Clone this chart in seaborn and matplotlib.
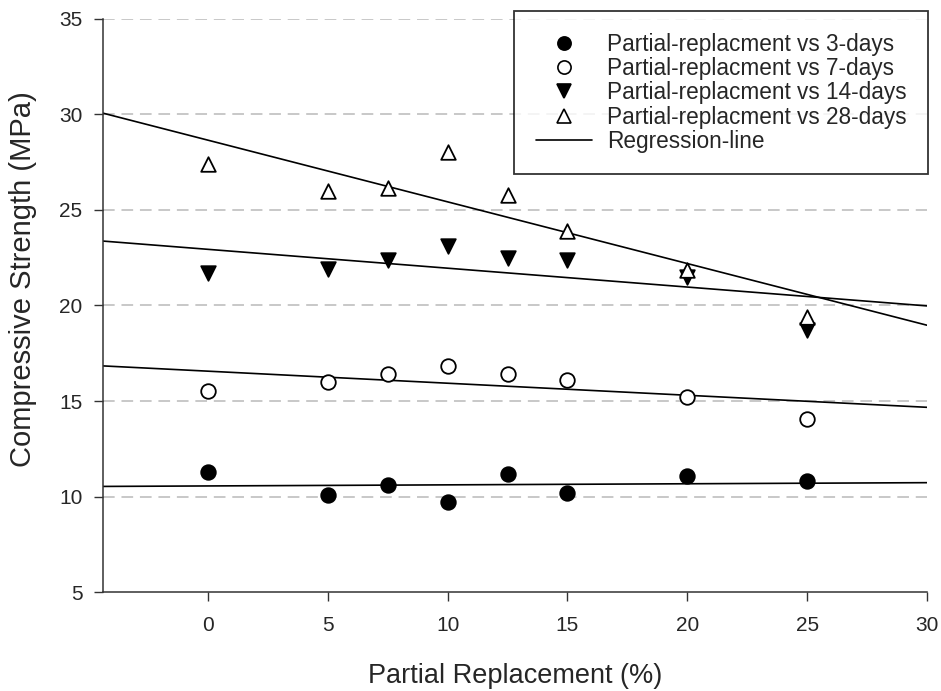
import matplotlib
matplotlib.use("Agg")
import matplotlib.pyplot as plt
import seaborn as sns
import numpy as np
import pandas as pd
from matplotlib.lines import Line2D

# ---- data ----
replacement = [0, 5, 7.5, 10, 12.5, 15, 20, 25]
days3 = [11.3, 10.1, 10.6, 9.7, 11.2, 10.2, 11.1, 10.8]
days7 = [15.5, 16.0, 16.4, 16.85, 16.4, 16.1, 15.2, 14.05]
days14 = [21.7, 21.9, 22.35, 23.1, 22.5, 22.35, 21.5, 18.7]
days28 = [27.4, 26.0, 26.15, 28.05, 25.75, 23.9, 21.85, 19.4]
series_labels = ["Partial-replacment vs 3-days", "Partial-replacment vs 7-days",
                 "Partial-replacment vs 14-days", "Partial-replacment vs 28-days"]
x_ticks = [0, 5, 10, 15, 20, 25, 30]
y_ticks = [5, 10, 15, 20, 25, 30, 35]

sns.set_style("ticks")
plt.rcParams['font.family'] = ['Liberation Sans', 'DejaVu Sans']

fig = plt.figure(figsize=(9.41, 6.91), dpi=100)
ax = fig.add_axes([0.109, 0.143, 0.876, 0.830])
ax.set_xlim(-4.4, 30)
ax.set_ylim(5, 35)

for yv in y_ticks[1:]:
    ax.axhline(yv, color="#c8c8c8", lw=1.4, ls=(0, (6, 3.5)), zorder=0)

styles = [
    dict(marker="o", facecolor="black", edgecolor="black"),
    dict(marker="o", facecolor="white", edgecolor="black"),
    dict(marker="v", facecolor="black", edgecolor="black"),
    dict(marker="^", facecolor="white", edgecolor="black"),
]
all_series = [days3, days7, days14, days28]

handles = []
for vals, lab, st in zip(all_series, series_labels, styles):
    df = pd.DataFrame({"x": replacement, "y": vals})
    sns.regplot(data=df, x="x", y="y", ax=ax, scatter=False, ci=None,
                truncate=False, line_kws=dict(color="black", lw=1.2, zorder=2))
    sns.scatterplot(data=df, x="x", y="y", ax=ax, marker=st["marker"], s=110,
                    color=st["facecolor"], edgecolor=st["edgecolor"],
                    linewidth=1.3, zorder=3)
    handles.append(Line2D([], [], ls="none", marker=st["marker"], markersize=9.5,
                          markerfacecolor=st["facecolor"],
                          markeredgecolor=st["edgecolor"], markeredgewidth=1.2,
                          label=lab))
handles.append(Line2D([], [], color="black", lw=1.2, label="Regression-line"))

ax.set_xlim(-4.4, 30)
ax.set_ylim(5, 35)
ax.set_xticks(x_ticks)
ax.set_yticks(y_ticks)
ax.tick_params(labelsize=15, length=6.5, width=1, direction="out", color="#333333")
ax.tick_params(axis="x", pad=11)
ax.tick_params(axis="y", pad=8)
for sp in ["top", "right"]:
    ax.spines[sp].set_visible(False)
for sp in ["left", "bottom"]:
    ax.spines[sp].set_color("#333333")
    ax.spines[sp].set_linewidth(1.1)

ax.set_xlabel("Partial Replacement (%)", fontsize=19.5, labelpad=20)
ax.set_ylabel("Compressive Strength (MPa)", fontsize=21)
ax.yaxis.set_label_coords(-0.079, 0.546)

leg = fig.legend(handles=handles, loc="upper right",
                 bbox_to_anchor=(928 / 941, 1 - 11 / 691),
                 frameon=True, fancybox=False, fontsize=16.3,
                 handlelength=2.5, handletextpad=0.65, labelspacing=0.06,
                 borderpad=0.95, borderaxespad=0)
leg.get_frame().set_edgecolor("black")
leg.get_frame().set_linewidth(1.3)

fig.savefig("out.png", dpi=100)
